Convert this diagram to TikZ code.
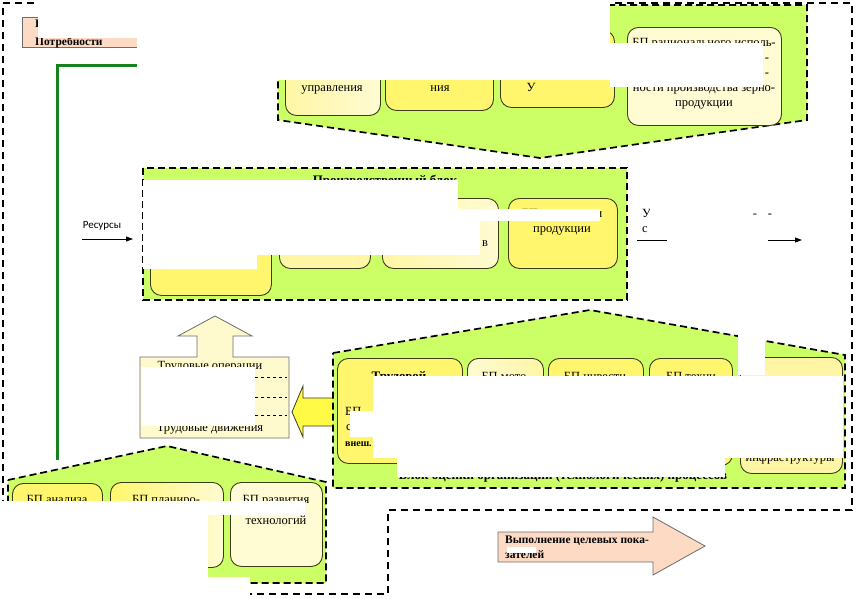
\documentclass[tikz,border=0pt]{standalone}
\usepackage{fontspec}
\setmainfont{Liberation Serif}
\newfontfamily\sansf{Carlito}
\usetikzlibrary{arrows.meta}
\definecolor{lime}{RGB}{204,255,102}
\definecolor{yel}{RGB}{255,246,110}
\definecolor{pyel}{RGB}{255,246,165}
\definecolor{cream}{RGB}{255,251,210}
\definecolor{peach}{RGB}{252,218,196}
\definecolor{tbox}{RGB}{255,250,205}
\definecolor{bord}{RGB}{60,60,25}
\definecolor{grn}{RGB}{20,130,30}
\definecolor{arrY}{RGB}{255,250,70}
\begin{document}
\begin{tikzpicture}[x=1pt,y=-1pt,
  blk/.style={fill=lime,draw=black,line width=1.7pt,dash pattern=on 7pt off 4pt},
  frm/.style={draw=black,line width=1.3pt,dash pattern=on 7pt off 5pt},
  bx/.style={draw=bord,line width=0.9pt,rounded corners=11pt,inner sep=0pt,anchor=north west},
  wh/.style={fill=white,draw=none},
  t/.style={font=\fontsize{12.5}{15}\selectfont,inner sep=0pt,anchor=base},
  tb/.style={font=\fontsize{11.5}{14}\selectfont\bfseries,inner sep=0pt,anchor=base west},
  tbig/.style={font=\fontsize{13}{15}\selectfont\bfseries,inner sep=0pt,anchor=base},
  arr/.style={-{Triangle[length=7pt,width=5pt]},line width=0.8pt},
  gbord/.style={draw=gray!85!black,line width=0.8pt},
]
\useasboundingbox (0,0) rectangle (857,598);

% outer frame
\draw[frm] (3,3) -- (852,3) -- (852,510) -- (388,510) -- (388,594) -- (3,594) -- cycle;

% green feedback line
\draw[grn,line width=3pt] (57,460) -- (57,65) -- (137,65);

% needs box
\node[fill=peach,gbord,minimum width=115pt,minimum height=30pt,inner sep=0pt,anchor=north west] (need) at (22,17) {};
\node[tb] (need1) at (35,27) {П};
\node[tb] (need2) at (35,45) {Потребности};

% top block
\path[blk] (278,5) -- (807,5) -- (807,120) -- (540,158) -- (278,120) -- cycle;
\node[bx,left color=pyel,right color=cream,minimum width=95pt,minimum height=85pt] (tA) at (285,30) {};
\node[bx,fill=yel,minimum width=108pt,minimum height=80pt] (tB) at (385,30) {};
\node[bx,fill=yel,minimum width=114pt,minimum height=77pt] (tC) at (500,30) {};
\node[bx,fill=cream,minimum width=154pt,minimum height=98pt] (tD) at (627,27) {};
\node[t] (tAt) at (332,91) {управления};
\node[t] (tBt) at (440,91) {ния};
\node[t] (tCt) at (531,91) {У};
\node[t] (tD1) at (704,46) {БП рационального исполь-};
\node[t] (tD2) at (767,61) {-};
\node[t] (tD3) at (767,76) {-};
\node[t] (tD4) at (704,91) {ности производства зерно-};
\node[t] (tD5) at (704,106) {продукции};

% middle block
\path[blk] (143,168) rectangle (627,300);
\node[tbig] (mTitle) at (385,184.5) {Производственный блок};
\node[bx,fill=yel,minimum width=121pt,minimum height=105pt] (mA) at (150,190) {};
\node[bx,fill=pyel,minimum width=91pt,minimum height=70pt] (mB) at (279,198) {};
\node[bx,left color=pyel,right color=cream,minimum width=116pt,minimum height=70pt] (mC) at (382,198) {};
\node[bx,fill=yel,minimum width=109pt,minimum height=70pt] (mD) at (508,198) {};
\node[t] (mC1) at (440,216) {БП производство};
\node[t] (mC3) at (485,246) {в};
\node[t] (mD1) at (562,217) {БП реализации};
\node[t] (mD2) at (562,232) {продукции};

% resources arrow
\node[font=\sansf\fontsize{11}{13}\selectfont,inner sep=0pt,anchor=base] (res) at (102,228) {Ресурсы};
\coordinate (resA) at (82,239);
\coordinate (resB) at (133,239);
\draw[arr] (resA) -- (resB);

% output arrow
\node[t,anchor=base west] (out1) at (642,217) {У};
\node[t,anchor=base west] (out2) at (642,232) {с};
\node[t] (out3) at (755,217) {-};
\node[t] (out4) at (770,217) {-};
\coordinate (outA) at (637,240);
\coordinate (outB) at (802,240);
\draw[arr] (outA) -- (outB);

% labour operations box with up arrow
\path[fill=tbox,gbord] (140,357) -- (197,357) -- (197,336) -- (178,336) -- (215,316) -- (252,336) -- (233,336) -- (233,357) -- (289,357) -- (289,438) -- (140,438) -- cycle;
\coordinate (opUp) at (215,316);
\draw[dashed,line width=0.6pt] (141,377) -- (287,377);
\draw[dashed,line width=0.6pt] (141,397) -- (287,397);
\draw[dashed,line width=0.6pt] (141,415) -- (287,415);
\node[t] (op1) at (210,369) {Трудовые операции};
\node[t] (op4) at (210,431) {Трудовые движения};

% yellow left arrow
\fill[arrY] (336,398) -- (303,398) -- (303,386) -- (292,412) -- (303,437) -- (303,426) -- (336,426) -- cycle;
\draw[bord,line width=0.8pt] (336,398) -- (303,398) -- (303,386) -- (292,412) -- (303,437) -- (303,426) -- (336,426);

% bottom right block
\path[blk] (333,353) -- (590,310) -- (845,355) -- (845,488) -- (333,488) -- cycle;
\node[bx,fill=yel,minimum width=125pt,minimum height=105pt] (rA) at (337,358) {};
\node[bx,left color=cream,right color=pyel,minimum width=76pt,minimum height=107pt] (rB) at (467,358) {};
\node[bx,fill=yel,minimum width=95pt,minimum height=107pt] (rC) at (548,358) {};
\node[bx,fill=yel,minimum width=83pt,minimum height=107pt] (rD) at (649,358) {};
\node[bx,fill=pyel,minimum width=102pt,minimum height=116pt] (rE) at (740,357) {};
\node[tbig] (rAt) at (399,380) {Трудовой};
\node[t,anchor=base west] (rA1) at (345,415) {БП};
\node[t,anchor=base west] (rA2) at (346,430) {с};
\node[font=\fontsize{10}{12}\selectfont\bfseries,inner sep=0pt,anchor=base west] (rA3) at (345,446) {внеш. ре};
\node[t] (rBt) at (504,380) {БП мото};
\node[t] (rCt) at (595,380) {БП инвести};
\node[t] (rDt) at (691,380) {БП техни};
\node[t] (rEt) at (790,461) {инфраструктуры};
\node[tbig] (rCap) at (563,479.5) {Блок оценки организации (технологических) процессов};

% bottom left block
\path[blk] (8,480) -- (167,446) -- (326,482) -- (326,583) -- (8,583) -- cycle;
\node[bx,fill=yel,minimum width=90pt,minimum height=84pt] (lA) at (12,483) {};
\node[bx,left color=yel,right color=cream,minimum width=113pt,minimum height=85pt] (lB) at (110,482) {};
\node[bx,fill=cream,minimum width=92pt,minimum height=84pt] (lC) at (230,482) {};
\node[t] (lAt) at (57,503) {БП анализа};
\node[t] (lBt) at (166,503) {БП планиро-};
\node[t] (lC1) at (276,503) {БП развития};
\node[t] (lC2) at (276,524) {технологий};

% target indicators arrow
\path[fill=peach,gbord] (498,532) -- (653,532) -- (653,517) -- (705,546) -- (653,575) -- (653,562) -- (498,562) -- cycle;
\node[tb] (goal1) at (505,543) {Выполнение целевых пока-};
\node[tb] (goal2) at (505,558) {зателей};

% covered regions
\fill[wh] (38,0) rectangle (137,37.5);
\fill[wh] (137,0) rectangle (610,80);
\fill[wh] (610,43) rectangle (763,87);
\fill[wh] (143,180) rectangle (458,255);
\fill[wh] (143,255) rectangle (257,269);
\fill[wh] (458,209) rectangle (600,221);
\fill[wh] (458,221) rectangle (480,255);
\fill[wh] (650,200) rectangle (750,229);
\fill[wh] (667,229) rectangle (768,250);
\fill[wh] (141,367) rectangle (255,426);
\fill[wh] (373,376) rectangle (843,457.5);
\fill[wh] (350,411) rectangle (373,437);
\fill[wh] (397,457) rectangle (725,476.5);
\fill[wh] (738,332) rectangle (765,375);
\fill[wh] (0,501) rectangle (305,515);
\fill[wh] (0,515) rectangle (208,598);
\fill[wh] (208,577) rectangle (250,598);
\fill[wh] (507,547) rectangle (536,553);
\end{tikzpicture}
\end{document}
